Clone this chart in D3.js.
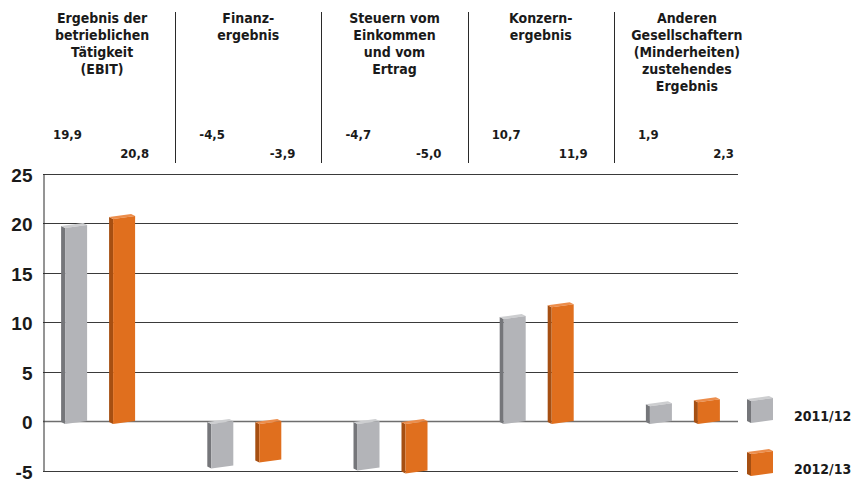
<!DOCTYPE html>
<html>
<head>
<meta charset="utf-8">
<script src="https://cdn.jsdelivr.net/npm/d3@7/dist/d3.min.js"></script>
<style>
  html, body { margin: 0; padding: 0; background: #fff; }
  svg { display: block; }
</style>
</head>
<body>
<svg id="chart" width="853" height="482"></svg>
<script>
// ---- data ----
const categories = ["EBIT", "Finanzergebnis", "Steuern", "Konzernergebnis", "Minderheiten"];
const headerLines = [
  ["Ergebnis der", "betrieblichen", "Tätigkeit", "(EBIT)"],
  ["Finanz-", "ergebnis"],
  ["Steuern vom", "Einkommen", "und vom", "Ertrag"],
  ["Konzern-", "ergebnis"],
  ["Anderen", "Gesellschaftern", "(Minderheiten)", "zustehendes", "Ergebnis"]
];
const seriesNames = ["2011/12", "2012/13"];
const values2011 = [19.9, -4.5, -4.7, 10.7, 1.9];
const values2012 = [20.8, -3.9, -5.0, 11.9, 2.3];
const yTicks = [-5, 0, 5, 10, 15, 20, 25];

// ---- setup ----
const svg = d3.select("#chart");
const condFont = "'DejaVu Sans Condensed', 'DejaVu Sans', sans-serif";
const axisFont = "'Liberation Sans', Arial, sans-serif";

const plotLeft = 43, plotRight = 738;
const x = d3.scaleBand().domain(categories).range([29, 760]).paddingInner(0).paddingOuter(0);
const y = d3.scaleLinear().domain([-5, 25]).range([470.5, 173.5]);
const xs = d3.scaleBand().domain(seriesNames).range([0, 74]).paddingInner(0.458).paddingOuter(0);

const palette = {
  "2011/12": { front: "#b3b4b8", side: "#75767a", top: "#cdced0" },
  "2012/13": { front: "#e06f1e", side: "#a64f12", top: "#ec8d4b" }
};
const locale = d3.formatLocale({ decimal: ",", thousands: ".", grouping: [3], currency: ["", "€"], minus: "-" });
const fmt = locale.format(".1f");
const fmtInt = locale.format("d");

const data = categories.map((c, i) => ({
  cat: c, head: headerLines[i],
  vals: [{ s: seriesNames[0], v: values2011[i] }, { s: seriesNames[1], v: values2012[i] }]
}));

// ---- header ----
const head = svg.append("g").attr("font-family", condFont).attr("font-weight", "bold")
  .attr("fill", "#1a1a1a");
data.forEach((d, i) => {
  const cx = x(d.cat) + x.bandwidth() / 2;
  const t = head.append("text").attr("text-anchor", "middle").attr("font-size", 14);
  d.head.forEach((line, j) => {
    t.append("tspan").attr("x", cx).attr("y", 23 + j * 17).text(line);
  });
  head.append("text").attr("x", cx - 49).attr("y", 139).attr("font-size", 13)
    .attr("text-anchor", "start").text(fmt(d.vals[0].v));
  head.append("text").attr("x", cx + 47).attr("y", 158).attr("font-size", 13)
    .attr("text-anchor", "end").text(fmt(d.vals[1].v));
  if (i > 0) {
    svg.append("line").attr("x1", Math.round(x(d.cat)) + 0.5).attr("x2", Math.round(x(d.cat)) + 0.5)
      .attr("y1", 12).attr("y2", 163).attr("stroke", "#2a2a2a").attr("stroke-width", 1);
  }
});

// ---- grid & axis ----
const grid = svg.append("g");
yTicks.forEach(t => {
  grid.append("line").attr("x1", plotLeft).attr("x2", plotRight)
    .attr("y1", Math.round(y(t)) + 0.5).attr("y2", Math.round(y(t)) + 0.5)
    .attr("stroke", t === 0 ? "#6e6e6e" : "#3a3a3a").attr("stroke-width", t === 0 ? 1.4 : 1);
});
const yAxis = d3.axisLeft(y).tickValues(yTicks).tickSize(0).tickPadding(11).tickFormat(fmtInt);
const ag = svg.append("g").attr("transform", `translate(${plotLeft + 0.5},0)`).call(yAxis);
ag.select(".domain").attr("stroke", "#2a2a2a").attr("stroke-width", 1);
ag.selectAll("text").attr("font-family", axisFont).attr("font-weight", "bold")
  .attr("font-size", 19).attr("fill", "#1a1a1a").attr("dy", "0.42em");

// ---- 3D bar helper ----
const D = 4, DY = 2, S = 3;
function bar3d(g, x0, w, ya, yb, col) {
  const xf = x0 + D, xr = x0 + w;
  const fTL = [xf, ya + DY + S], fTR = [xr, ya + DY], fBR = [xr, yb], fBL = [xf, yb + S];
  const bTL = [x0, ya + S], bTR = [xr - D, ya], bBL = [x0, yb + S - DY];
  const pts = p => p.map(q => q.join(",")).join(" ");
  g.append("polygon").attr("points", pts([fTL, fBL, bBL, bTL])).attr("fill", col.side);
  g.append("polygon").attr("points", pts([bTL, bTR, fTR, fTL])).attr("fill", col.top);
  g.append("polygon").attr("points", pts([fTL, fTR, fBR, fBL])).attr("fill", col.front);
}

// ---- bars ----
const bars = svg.append("g");
data.forEach(d => {
  const cx = x(d.cat) + x.bandwidth() / 2;
  d.vals.forEach(b => {
    const x0 = cx - 41 + xs(b.s);
    const y0 = y(0), yv = y(b.v);
    bar3d(bars, x0, xs.bandwidth(), b.v >= 0 ? yv - 1 : y0 - 2, b.v >= 0 ? y0 : yv, palette[b.s]);
  });
});

// ---- legend ----
const legend = svg.append("g");
const legY = [396, 449];
seriesNames.forEach((s, i) => {
  bar3d(legend, 747, 26, legY[i], legY[i] + 24, palette[s]);
  legend.append("text").attr("x", 794).attr("y", legY[i] + 25)
    .attr("font-family", condFont).attr("font-weight", "bold").attr("font-size", 14)
    .attr("fill", "#1a1a1a").text(s);
});
</script>
</body>
</html>
